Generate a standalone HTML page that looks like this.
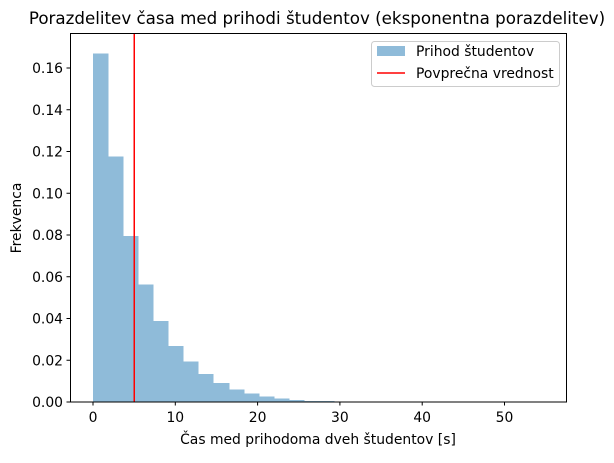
<!DOCTYPE html>
<html><head><meta charset="utf-8"><style>
body{margin:0;background:#fff}
svg text{font-family:"DejaVu Sans","Liberation Sans",sans-serif;fill:#000}
</style></head><body>
<svg id="chart" width="614" height="458" viewBox="0 0 614 458">
<text x="317" y="24" font-size="16.7" text-anchor="middle">Porazdelitev časa med prihodi študentov (eksponentna porazdelitev)</text>
<g id="bars" shape-rendering="crispEdges"></g>
<g id="ticks"></g>
<rect x="70.5" y="33.5" width="496" height="368.5" fill="none" stroke="#000" stroke-width="1"/>
<text x="318" y="444" font-size="13.9" text-anchor="middle">Čas med prihodoma dveh študentov [s]</text>
<text x="21" y="218" font-size="13.9" text-anchor="middle" transform="rotate(-90 21 218)">Frekvenca</text>
<g>
<rect x="371.5" y="41.5" width="188" height="45" rx="3" fill="#fff" fill-opacity="0.8" stroke="#ccc"/>
<rect x="377" y="46" width="28" height="10" fill="#8fbbd9"/>
<text x="416" y="56" font-size="13.9">Prihod študentov</text>
<line x1="377" y1="73" x2="405" y2="73" stroke="#ff0000" stroke-width="1.5"/>
<text x="416" y="78" font-size="13.9">Povprečna vrednost</text>
</g>
</svg>
<script>
const binWidth = 1.83;
const binValues = [0.167,0.1176,0.0796,0.0563,0.0388,0.0269,0.0193,0.0133,0.0090,0.0060,0.0041,0.0027,0.0017,0.0009,0.0005,0.0005,0.0002,0.0001,0.0001,0.0001,0.0001,0.0,0.0,0.0,0.0,0.0,0.0,0.0,0.0,0.0];
const meanValue = 5.0;
const xTicks = [0,10,20,30,40,50];
const yTicks = [0,0.02,0.04,0.06,0.08,0.10,0.12,0.14,0.16];
const yTickLabels = ["0.00","0.02","0.04","0.06","0.08","0.10","0.12","0.14","0.16"];

const NS="http://www.w3.org/2000/svg";
const xs=v=>93+8.23*v;
const ys=v=>402-v*2087.5;
const bars=document.getElementById('bars');
binValues.forEach((v,i)=>{
  if(v<=0) return;
  const r=document.createElementNS(NS,'rect');
  const x0=Math.round(xs(i*binWidth)), x1=Math.round(xs((i+1)*binWidth));
  r.setAttribute('x',x0);r.setAttribute('width',x1-x0+0.5);
  r.setAttribute('y',ys(v));r.setAttribute('height',402-ys(v));
  r.setAttribute('fill','#8fbbd9');
  
  
  bars.appendChild(r);
});
const ml=document.createElementNS(NS,'line');
ml.setAttribute('x1',xs(meanValue));ml.setAttribute('x2',xs(meanValue));
ml.setAttribute('y1',33.5);ml.setAttribute('y2',402);
ml.setAttribute('stroke','#ff0000');ml.setAttribute('stroke-width','1.5');


bars.appendChild(ml);
const tg=document.getElementById('ticks');
xTicks.forEach(t=>{
  const x=xs(t);
  const l=document.createElementNS(NS,'line');
  l.setAttribute('x1',x);l.setAttribute('x2',x);l.setAttribute('y1',402);l.setAttribute('y2',405.5);l.setAttribute('stroke','#000');
  
  
  tg.appendChild(l);
  const tx=document.createElementNS(NS,'text');
  tx.setAttribute('x',x);tx.setAttribute('y',422);tx.setAttribute('font-size','13.9');tx.setAttribute('text-anchor','middle');
  tx.textContent=t;
  
  
  tg.appendChild(tx);
});
yTicks.forEach((t,i)=>{
  const y=ys(t);
  const l=document.createElementNS(NS,'line');
  l.setAttribute('x1',66.5);l.setAttribute('x2',70.5);l.setAttribute('y1',y);l.setAttribute('y2',y);l.setAttribute('stroke','#000');
  
  
  tg.appendChild(l);
  const tx=document.createElementNS(NS,'text');
  tx.setAttribute('x',63);tx.setAttribute('y',y+5);tx.setAttribute('font-size','13.9');tx.setAttribute('text-anchor','end');
  tx.textContent=yTickLabels[i];
  
  
  tg.appendChild(tx);
});
</script>
</body></html>
